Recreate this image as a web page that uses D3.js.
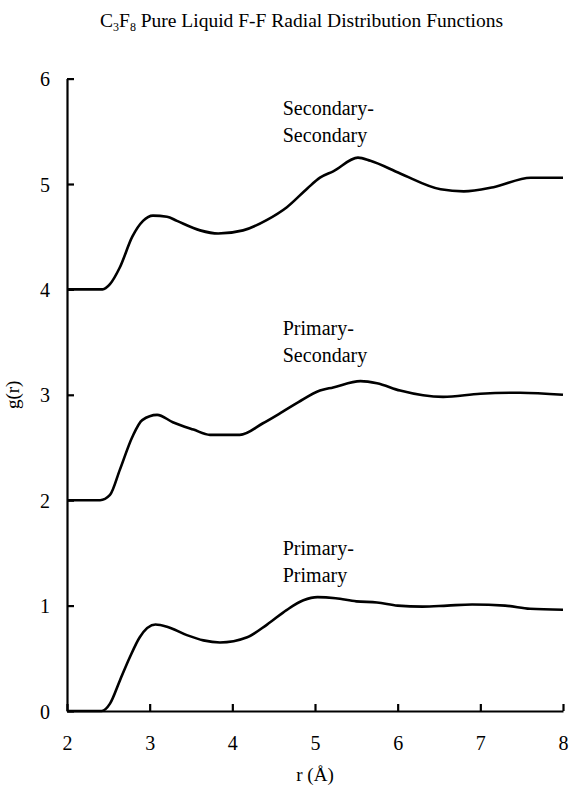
<!DOCTYPE html>
<html>
<head>
<meta charset="utf-8">
<script src="https://cdn.jsdelivr.net/npm/d3@7"></script>
<style>
  body{margin:0;background:#fff}
  svg{display:block}
  svg text{font-family:"Liberation Serif","Times New Roman","DejaVu Serif",serif;fill:#000}
</style>
</head>
<body>
<script>
  // values
  let rPP = [2.0, 2.42, 2.52, 2.64, 2.76, 2.88, 3.07, 3.21, 3.45, 3.65, 3.85, 4.18, 4.42, 4.66, 4.86, 5.03, 5.25, 5.5, 5.75, 6.0, 6.3, 6.6, 6.9, 7.3, 7.6, 8.0]
  let gPP = [0, 0, 0.07, 0.29, 0.51, 0.70, 0.82, 0.80, 0.72, 0.67, 0.65, 0.70, 0.82, 0.96, 1.05, 1.08, 1.07, 1.04, 1.03, 1.0, 0.99, 1.0, 1.01, 1.0, 0.97, 0.96]
  let rPS = [2.0, 2.40, 2.52, 2.64, 2.79, 2.91, 3.09, 3.28, 3.53, 3.73, 4.09, 4.37, 4.61, 4.80, 5.06, 5.22, 5.55, 5.75, 6.03, 6.55, 7.0, 7.48, 8.0]
  let gPS = [2.0, 2.0, 2.05, 2.29, 2.60, 2.76, 2.81, 2.74, 2.67, 2.62, 2.62, 2.73, 2.84, 2.93, 3.04, 3.07, 3.13, 3.11, 3.04, 2.98, 3.01, 3.02, 3.0]
  let rSS = [2.0, 2.43, 2.52, 2.64, 2.79, 2.92, 3.04, 3.21, 3.33, 3.61, 3.83, 4.13, 4.42, 4.66, 4.91, 5.06, 5.22, 5.52, 5.67, 6.03, 6.52, 6.80, 7.16, 7.61, 8.0]
  let gSS = [4.0, 4.0, 4.05, 4.21, 4.50, 4.65, 4.70, 4.69, 4.65, 4.56, 4.53, 4.56, 4.66, 4.78, 4.96, 5.06, 5.12, 5.25, 5.22, 5.10, 4.95, 4.93, 4.97, 5.06, 5.06]
  let xTicks = [2, 3, 4, 5, 6, 7, 8]
  let yTicks = [0, 1, 2, 3, 4, 5, 6]
  let curveLabels = [
    {lines:["Secondary-","Secondary"], r:4.61, g:5.655},
    {lines:["Primary-","Secondary"], r:4.61, g:3.567},
    {lines:["Primary-","Primary"], r:4.61, g:1.48}
  ]

  let width = 569, height = 785
  let svg = d3.select("body").append("svg").attr("width",width).attr("height",height)

  let x = d3.scaleLinear().domain([2,8]).range([67,563])
  let y = d3.scaleLinear().domain([0,6]).range([711,78.6])

  // axes
  let xAxis = svg.append("g").attr("transform",`translate(0,${y(0)})`)
    .call(d3.axisBottom(x).tickValues(xTicks).tickSizeInner(-7).tickSizeOuter(0).tickPadding(25).tickFormat(d3.format("d")))
  let yAxis = svg.append("g").attr("transform",`translate(${x(2)},0)`)
    .call(d3.axisLeft(y).tickValues(yTicks).tickSizeInner(-7).tickSizeOuter(0).tickPadding(17).tickFormat(d3.format("d")))
  ;[xAxis,yAxis].forEach(a=>{
    a.attr("font-family",null).attr("font-size",null)
    a.select(".domain").attr("stroke","#000").attr("stroke-width",2.2)
    a.selectAll(".tick line").attr("stroke","#000").attr("stroke-width",2.2)
    a.selectAll(".tick text").attr("font-size",20).attr("fill","#000")
  })
  yAxis.selectAll(".tick text").attr("dy","0.35em")

  // curves
  let line = d3.line().x(d=>x(d[0])).y(d=>y(d[1])).curve(d3.curveMonotoneX)
  ;[[rPP,gPP],[rPS,gPS],[rSS,gSS]].forEach(s=>{
    svg.append("path")
      .datum(s[0].map((r,i)=>[r,s[1][i]]))
      .attr("d",line)
      .attr("fill","none")
      .attr("stroke","#000")
      .attr("stroke-width",2.6)
      .attr("stroke-linejoin","round")
  })

  // curve labels
  curveLabels.forEach(l=>{
    let t = svg.append("text").attr("x",x(l.r)).attr("y",y(l.g)).attr("font-size",20)
    l.lines.forEach((s,i)=>{
      t.append("tspan").attr("x",x(l.r)).attr("dy",i===0?0:27).text(s)
    })
  })

  // title
  let title = svg.append("text").attr("x",100).attr("y",27).attr("font-size",19.5)
  title.append("tspan").text("C")
  title.append("tspan").attr("font-size",12).attr("dy",4).text("3")
  title.append("tspan").attr("dy",-4).text("F")
  title.append("tspan").attr("font-size",12).attr("dy",4).text("8")
  title.append("tspan").attr("dy",-4).text(" Pure Liquid F-F Radial Distribution Functions")

  // axis titles
  svg.append("text").attr("x",315).attr("y",781).attr("text-anchor","middle").attr("font-size",19).text("r (Å)")
  svg.append("text").attr("transform",`translate(19,${y(3)}) rotate(-90)`).attr("text-anchor","middle").attr("font-size",19).text("g(r)")
</script>
</body>
</html>
